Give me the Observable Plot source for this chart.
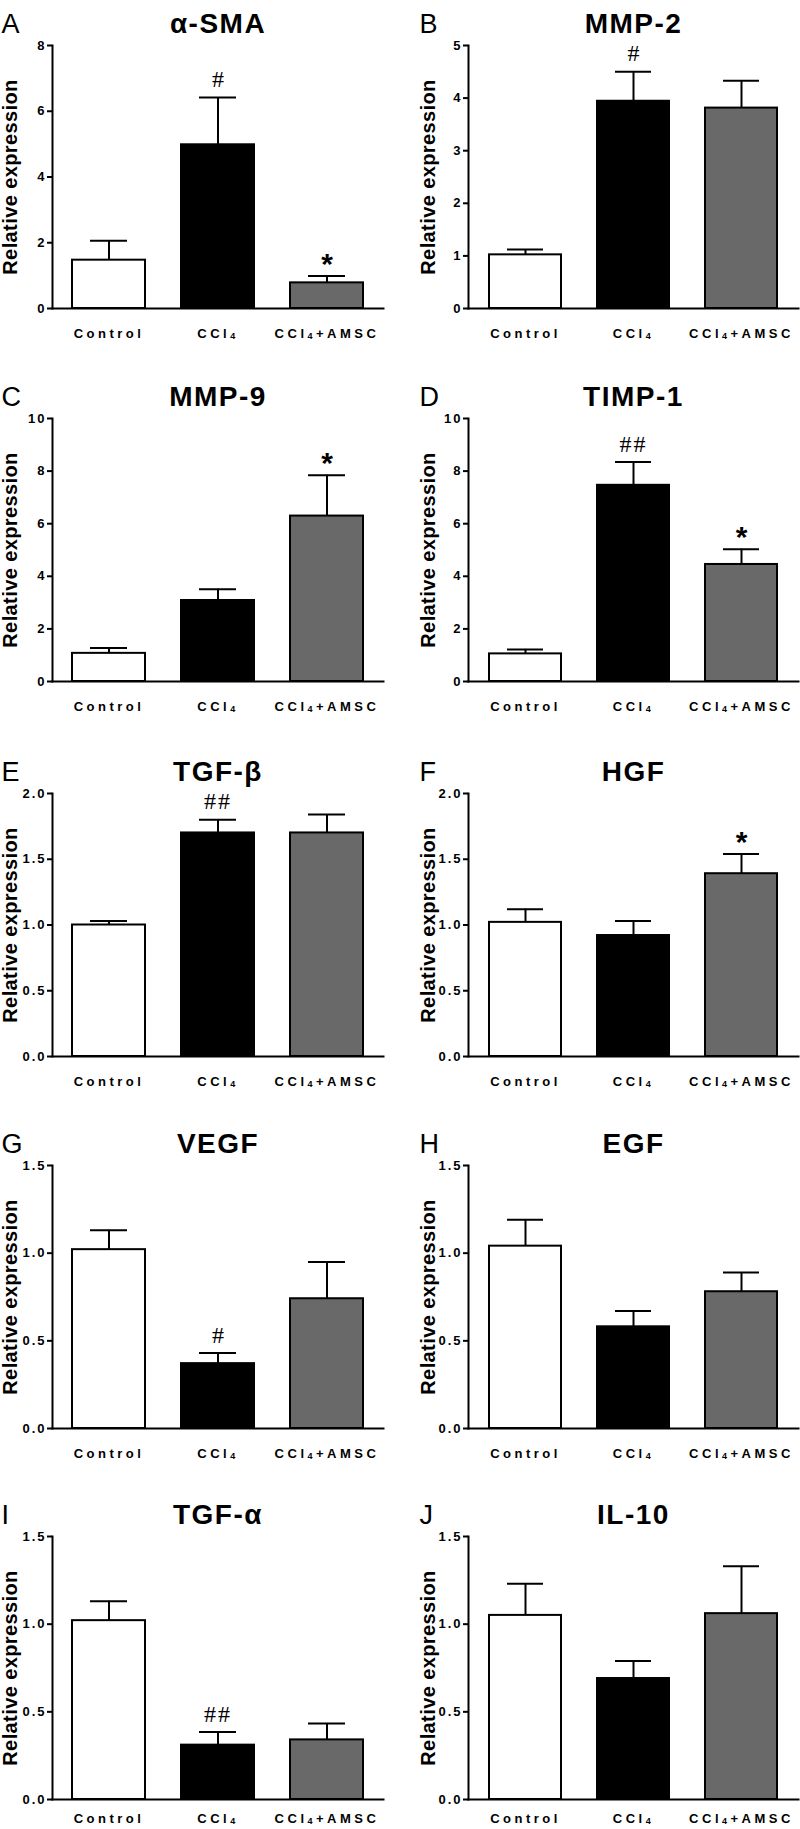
<!DOCTYPE html>
<html>
<head>
<meta charset="utf-8">
<script src="https://cdn.jsdelivr.net/npm/d3@7"></script>
<script src="https://cdn.jsdelivr.net/npm/@observablehq/plot@0.6"></script>
<style>
body { margin: 0; background: #fff; }
#chart { position: relative; width: 800px; height: 1829px; overflow: hidden; background: #fff; }
#chart > div { position: absolute; }
#chart svg { overflow: visible; }
g[aria-label="y-axis tick label"] {
  font-family: "Liberation Sans Narrow", "Arial Narrow", "Liberation Sans", Arial, sans-serif;
  font-weight: bold; font-size: 13px; letter-spacing: 2px;
}
g[aria-label="x-axis tick label"] {
  font-family: "Liberation Sans Narrow", "Arial Narrow", "Liberation Sans", Arial, sans-serif;
  font-weight: bold; font-size: 13px; letter-spacing: 3.5px;
}
g[aria-label="y-axis tick"] { stroke-width: 2px; }
</style>
</head>
<body>
<div id="chart"></div>
<script>
// ---- data ----
const groups = ["Control", "CCl₄", "CCl₄+AMSC"];
const letters = ["A", "B", "C", "D", "E", "F", "G", "H", "I", "J"];
const titles = ["α-SMA", "MMP-2", "MMP-9", "TIMP-1", "TGF-β", "HGF", "VEGF", "EGF", "TGF-α", "IL-10"];
const yMax = [8, 5, 10, 10, 2, 2, 1.5, 1.5, 1.5, 1.5];
const yTicks = [
  [0, 2, 4, 6, 8],
  [0, 1, 2, 3, 4, 5],
  [0, 2, 4, 6, 8, 10],
  [0, 2, 4, 6, 8, 10],
  [0, 0.5, 1, 1.5, 2],
  [0, 0.5, 1, 1.5, 2],
  [0, 0.5, 1, 1.5],
  [0, 0.5, 1, 1.5],
  [0, 0.5, 1, 1.5],
  [0, 0.5, 1, 1.5]
];
const means = [
  [1.47, 4.98, 0.78],
  [1.02, 3.94, 3.81],
  [1.07, 3.08, 6.29],
  [1.05, 7.46, 4.45],
  [1.00, 1.70, 1.70],
  [1.02, 0.92, 1.39],
  [1.02, 0.37, 0.74],
  [1.04, 0.58, 0.78],
  [1.02, 0.31, 0.34],
  [1.05, 0.69, 1.06]
];
const errors = [
  [0.59, 1.44, 0.21],
  [0.10, 0.56, 0.52],
  [0.20, 0.43, 1.55],
  [0.17, 0.89, 0.58],
  [0.03, 0.10, 0.14],
  [0.10, 0.11, 0.15],
  [0.11, 0.06, 0.21],
  [0.15, 0.09, 0.11],
  [0.11, 0.075, 0.093],
  [0.18, 0.10, 0.27]
];
const signif = [
  ["", "#", "*"],
  ["", "#", ""],
  ["", "", "*"],
  ["", "##", "*"],
  ["", "##", ""],
  ["", "", "*"],
  ["", "#", ""],
  ["", "", ""],
  ["", "##", ""],
  ["", "", ""]
];
const yLabel = "Relative expression";

// ---- styling / layout ----
const fills = ["#ffffff", "#000000", "#696969"];
const rowTops = [0, 373, 748, 1120, 1491];
const labelPad = [20, 20, 20, 20, 14];
const SANS = "Liberation Sans, Arial, Helvetica, sans-serif";
const SVGNS = "http://www.w3.org/2000/svg";

const chart = document.getElementById("chart");

titles.forEach((title, i) => {
  const col = i % 2, row = Math.floor(i / 2);
  const mL = col ? 68 : 52, mR = col ? 2 : 17;
  const data = groups.map((g, j) => ({
    group: g,
    mean: means[i][j],
    top: means[i][j] + errors[i][j],
    sig: signif[i][j],
    fill: fills[j]
  }));
  const fmt = yMax[i] <= 2 ? d3.format(".1f") : d3.format("d");
  const plot = Plot.plot({
    width: 400,
    height: 338,
    marginLeft: mL,
    marginRight: mR,
    marginTop: 45,
    marginBottom: 30,
    style: { fontFamily: SANS, background: "transparent", color: "#000" },
    color: { type: "identity" },
    x: { domain: groups, paddingInner: 0.33, paddingOuter: 0.18, label: null },
    y: { domain: [0, yMax[i]], label: null },
    marks: [
      Plot.barY(data, { x: "group", y: "mean", fill: "fill", stroke: "#000", strokeWidth: 2 }),
      Plot.ruleX(data, { x: "group", y1: "mean", y2: "top", stroke: "#000", strokeWidth: 2 }),
      Plot.tickY(data, { x: "group", y: "top", stroke: "#000", strokeWidth: 2, insetLeft: 18, insetRight: 18 }),
      Plot.frame({ anchor: "left", strokeWidth: 2, stroke: "#000" }),
      Plot.frame({ anchor: "bottom", strokeWidth: 2, stroke: "#000" }),
      Plot.axisY({ ticks: yTicks[i], tickFormat: fmt, tickSize: 5, tickPadding: 1, label: null }),
      Plot.axisX({ tickSize: 0, tickPadding: labelPad[row], label: null }),
      Plot.text([title], { frameAnchor: "top", textAnchor: "middle", dy: -32, fontSize: 28, fontWeight: "bold", fill: "#000" }),
      Plot.text([letters[i]], { frameAnchor: "top-left", textAnchor: "start", dx: col ? -49 : -51, dy: -32, fontSize: 27, fill: "#000" }),
      Plot.text([yLabel], { frameAnchor: "left", textAnchor: "middle", rotate: -90, dx: col ? -40 : -42, fontSize: 20, fontWeight: "bold", fill: "#000" }),
      Plot.text(data.filter(d => d.sig.startsWith("#")), { x: "group", y: "top", text: "sig", dy: -18, fontSize: 24, fontFamily: "Liberation Serif, Times New Roman, serif", fill: "#000" }),
      Plot.text(data.filter(d => d.sig === "*"), { x: "group", y: "top", text: "sig", dy: -12, fontSize: 30, fontWeight: "bold", fill: "#000" })
    ]
  });
  const svg = d3.select(plot);
  svg.selectAll("text").each(function () {
    const t = this.textContent;
    if (t === title) this.style.letterSpacing = "1.5px";
    else if (t === yLabel) this.style.letterSpacing = "0.4px";
    else if (t === "##") this.style.letterSpacing = "2px";
  });
  // render the subscript 4 of CCl4 as a smaller digit
  svg.selectAll('g[aria-label="x-axis tick label"] text').each(function () {
    const t = this.textContent;
    if (!t.includes("₄")) return;
    const parts = t.split("₄");
    this.textContent = "";
    parts.forEach((p, k) => {
      if (k > 0) {
        const s = document.createElementNS(SVGNS, "tspan");
        s.textContent = "4";
        s.setAttribute("font-size", "9");
        s.setAttribute("dy", "1");
        this.appendChild(s);
      }
      if (p) {
        const s = document.createElementNS(SVGNS, "tspan");
        s.textContent = p;
        if (k > 0) s.setAttribute("dy", "-1");
        this.appendChild(s);
      }
    });
  });
  const holder = document.createElement("div");
  holder.style.left = (col * 400) + "px";
  holder.style.top = rowTops[row] + "px";
  holder.appendChild(plot);
  chart.appendChild(holder);
});
</script>
</body>
</html>
